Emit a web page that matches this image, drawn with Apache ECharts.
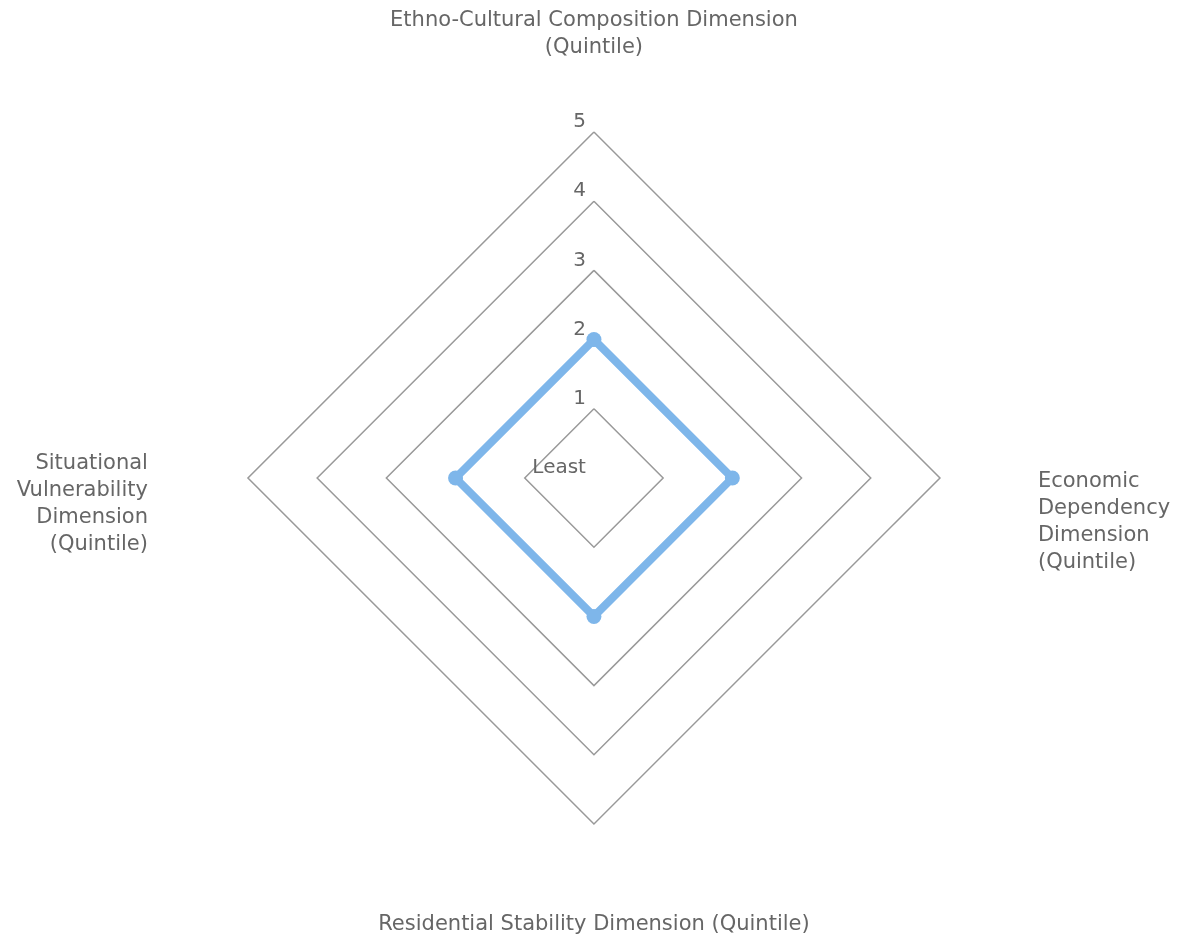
<!DOCTYPE html>
<html>
<head>
<meta charset="utf-8">
<script src="https://cdn.jsdelivr.net/npm/echarts@6/dist/echarts.min.js"></script>
<style>
html,body{margin:0;padding:0;background:#fff;}
#chart{width:1178px;height:938px;}
</style>
</head>
<body>
<div id="chart"></div>
<script>
// Indicators listed counter-clockwise from the top (ECharts radar order)
const indicators = [
  'Ethno-Cultural Composition Dimension\n(Quintile)',
  'Situational\nVulnerability\nDimension\n(Quintile)',
  'Residential Stability Dimension (Quintile)',
  'Economic\nDependency\nDimension\n(Quintile)'
];
const values = [2, 2, 2, 2];
const tickLabels = ['Least', '1', '2', '3', '4', '5'];
const maxValue = 5;

const nameGaps = [71, 100, 87, 98];
// vertical offset (px) for side labels, realised by a spacer line
const nameShift = [0, 26, 0, 44];

const chart = echarts.init(document.getElementById('chart'));
chart.setOption({
  animation: false,
  radar: {
    center: ['50.42%', '50.96%'],
    radius: 346,
    shape: 'polygon',
    splitNumber: 5,
    startAngle: 90,
    axisName: {
      color: '#666',
      fontFamily: 'DejaVu Sans',
      fontSize: 21,
      lineHeight: 27,
      formatter: function (name) {
        const i = indicators.indexOf(name);
        const s = nameShift[i] || 0;
        if (!s) return name;
        return '{sp' + i + '| }\n' + name;
      },
      rich: {
        sp1: { lineHeight: 52, fontSize: 1 },
        sp3: { lineHeight: 88, fontSize: 1 }
      }
    },
    splitLine: { lineStyle: { color: '#999', width: 1.5 } },
    splitArea: { show: false },
    axisLine: { show: false },
    axisTick: { show: false },
    axisLabel: { show: false },
    indicator: indicators.map((n, i) => ({
      name: n, min: 0, max: maxValue, nameGap: nameGaps[i],
      axisLabel: i === 0 ? {
        show: true,
        color: '#666',
        fontFamily: 'DejaVu Sans',
        fontSize: 20,
        verticalAlign: 'bottom',
        formatter: v => tickLabels[Math.round(v)]
      } : { show: false }
    }))
  },
  series: [{
    type: 'radar',
    symbol: 'circle',
    symbolSize: 15,
    lineStyle: { color: '#7EB6EA', width: 8 },
    itemStyle: { color: '#7EB6EA' },
    data: [{ value: values }]
  }]
});
</script>
</body>
</html>
